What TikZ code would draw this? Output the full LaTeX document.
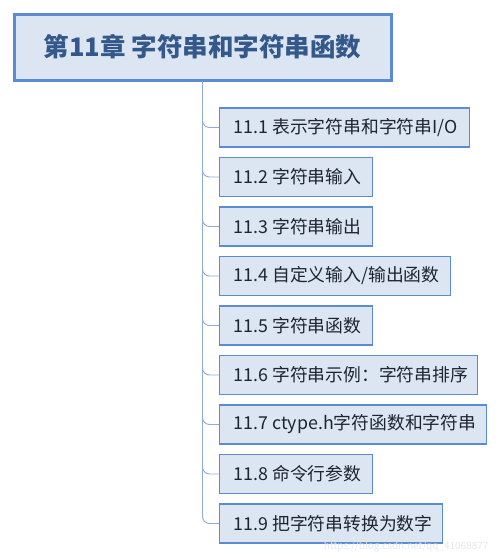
\documentclass[tikz,border=0pt]{standalone}
\usepackage{fontspec}
\setmainfont{Noto Sans CJK SC}
\begin{document}
\begin{tikzpicture}[x=1pt,y=-1pt,
  rootbox/.style={draw=boxborder,line width=3pt,fill=boxfill,minimum width=377pt,minimum height=66pt,
    font=\fontsize{25.5}{30}\selectfont\bfseries,text=roottext,inner sep=0pt},
  childbox/.style={draw=boxborder,line width=1.4pt,fill=boxfill,minimum height=39pt,anchor=west,
    font=\fontsize{17.8}{20}\selectfont,text=childtext,inner sep=0pt},
  link/.style={draw=linkcol,line width=0.9pt,rounded corners=7pt}]
\definecolor{boxborder}{HTML}{5B8BD0}
\definecolor{boxfill}{HTML}{DCE6F2}
\definecolor{roottext}{HTML}{34588A}
\definecolor{childtext}{HTML}{1E2430}
\definecolor{linkcol}{HTML}{8FACD8}
\useasboundingbox (0,0) rectangle (500,558);
\fill[white] (0,0) rectangle (500,558);
\node[rootbox] (root) at (202.5,47) {第11章 字符串和字符串函数};
\foreach \i/\w/\t in {1/250/{11.1 表示字符串和字符串I/O},2/153/{11.2 字符串输入},3/153/{11.3 字符串输出},
  4/231/{11.4 自定义输入/输出函数},5/153/{11.5 字符串函数},6/258/{11.6 字符串示例：字符串排序},
  7/267/{11.7 ctype.h字符函数和字符串},8/153/{11.8 命令行参数},9/223/{11.9 把字符串转换为数字}}{
  \pgfmathsetlengthmacro{\tw}{\w pt - 28pt}
  \node[childbox,minimum width=\w pt] (c\i) at (219,{127.5+49.5*(\i-1)}) {\makebox[\tw][l]{\t}};
}
\foreach \i in {1,...,9}{
  \draw[link] (root.south) |- (c\i.west);
}
\node[text=gray!18,font=\fontsize{10}{12}\selectfont,anchor=east] (wm) at (492,547) {https://blog.csdn.net/qq\_41068877};
\end{tikzpicture}
\end{document}
